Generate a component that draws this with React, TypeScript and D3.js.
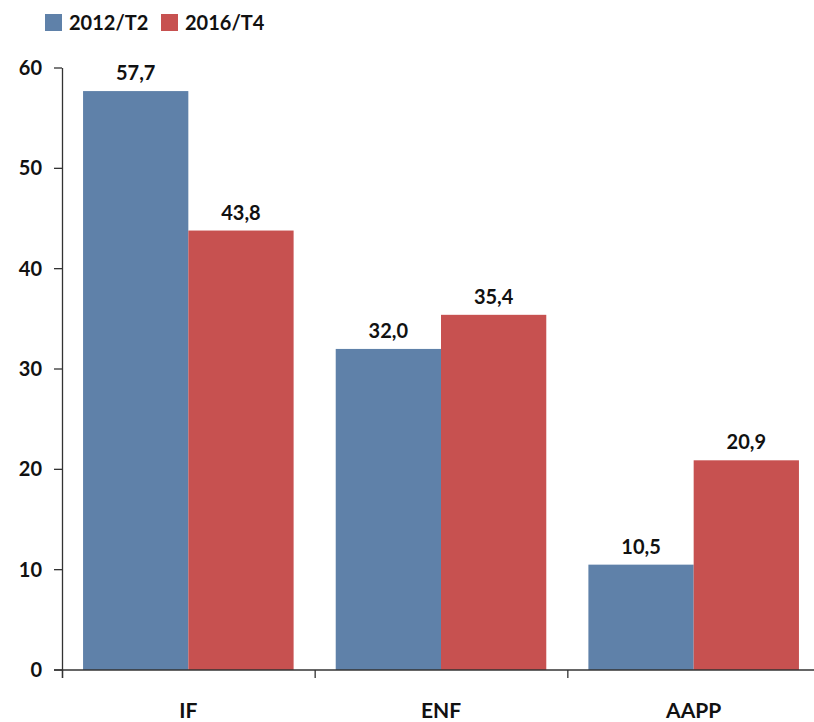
import React from "react";
import * as d3 from "d3";

const categories = ["IF", "ENF", "AAPP"];
const seriesNames = ["2012/T2", "2016/T4"];
const values2012 = [57.7, 32.0, 10.5];
const values2016 = [43.8, 35.4, 20.9];
const yTicks = [0, 10, 20, 30, 40, 50, 60];
const colors = ["#5f81a9", "#c75150"];

const W = 814;
const H = 722;
const left = 62;
const right = 820;
const top = 68;
const bottom = 670;
const font = "Lato, 'Open Sans', sans-serif";

export default function App() {
  const x = d3.scaleBand<string>().domain(categories).range([left, right]).padding(0);
  const xs = d3.scaleBand<string>().domain(seriesNames).range([0, x.bandwidth()]).paddingInner(0).paddingOuter(0.2);
  const y = d3.scaleLinear().domain([0, 60]).range([bottom, top]);
  const series = [values2012, values2016];
  const fmt = (v: number) => v.toFixed(1).replace(".", ",");

  return (
    <svg width={W} height={H} style={{ position: "absolute", left: 0, top: 0, background: "#fff" }} fontFamily={font}>
      {/* bars */}
      {categories.map((c, i) =>
        seriesNames.map((s, j) => {
          const v = series[j][i];
          const bx = (x(c) as number) + (xs(s) as number);
          return (
            <g key={c + s}>
              <rect x={bx} y={y(v)} width={xs.bandwidth()} height={y(0) - y(v)} fill={colors[j]} />
              <text x={bx + xs.bandwidth() / 2} y={y(v) - 11} textAnchor="middle" fontSize={20} fontWeight="bold" fill="#111">
                {fmt(v)}
              </text>
            </g>
          );
        })
      )}
      {/* y axis */}
      <line x1={left + 0.5} x2={left + 0.5} y1={top} y2={bottom + 8} stroke="#333" strokeWidth={1.3} />
      {yTicks.map((t) => (
        <g key={t}>
          <line x1={left - 8} x2={left} y1={y(t)} y2={y(t)} stroke="#333" strokeWidth={1.3} />
          <text x={42} y={y(t)} dy="0.35em" textAnchor="end" fontSize={20} fontWeight="bold" fill="#111">
            {t}
          </text>
        </g>
      ))}
      {/* x axis */}
      <line x1={left - 8} x2={W} y1={bottom} y2={bottom} stroke="#333" strokeWidth={1.3} />
      {categories.map((c) => (
        <g key={c}>
          <line x1={(x(c) as number) + 0.5} x2={(x(c) as number) + 0.5} y1={bottom} y2={bottom + 8} stroke="#333" strokeWidth={1.3} />
          <text x={(x(c) as number) + x.bandwidth() / 2} y={718} textAnchor="middle" fontSize={21} fontWeight="bold" fill="#111">
            {c}
          </text>
        </g>
      ))}
      {/* legend */}
      {seriesNames.map((s, j) => {
        const lx = j === 0 ? 45 : 161;
        return (
          <g key={s}>
            <rect x={lx} y={14} width={17} height={17} fill={colors[j]} />
            <text x={lx + 24} y={30} fontSize={20} fontWeight="bold" fill="#111">
              {s}
            </text>
          </g>
        );
      })}
    </svg>
  );
}
